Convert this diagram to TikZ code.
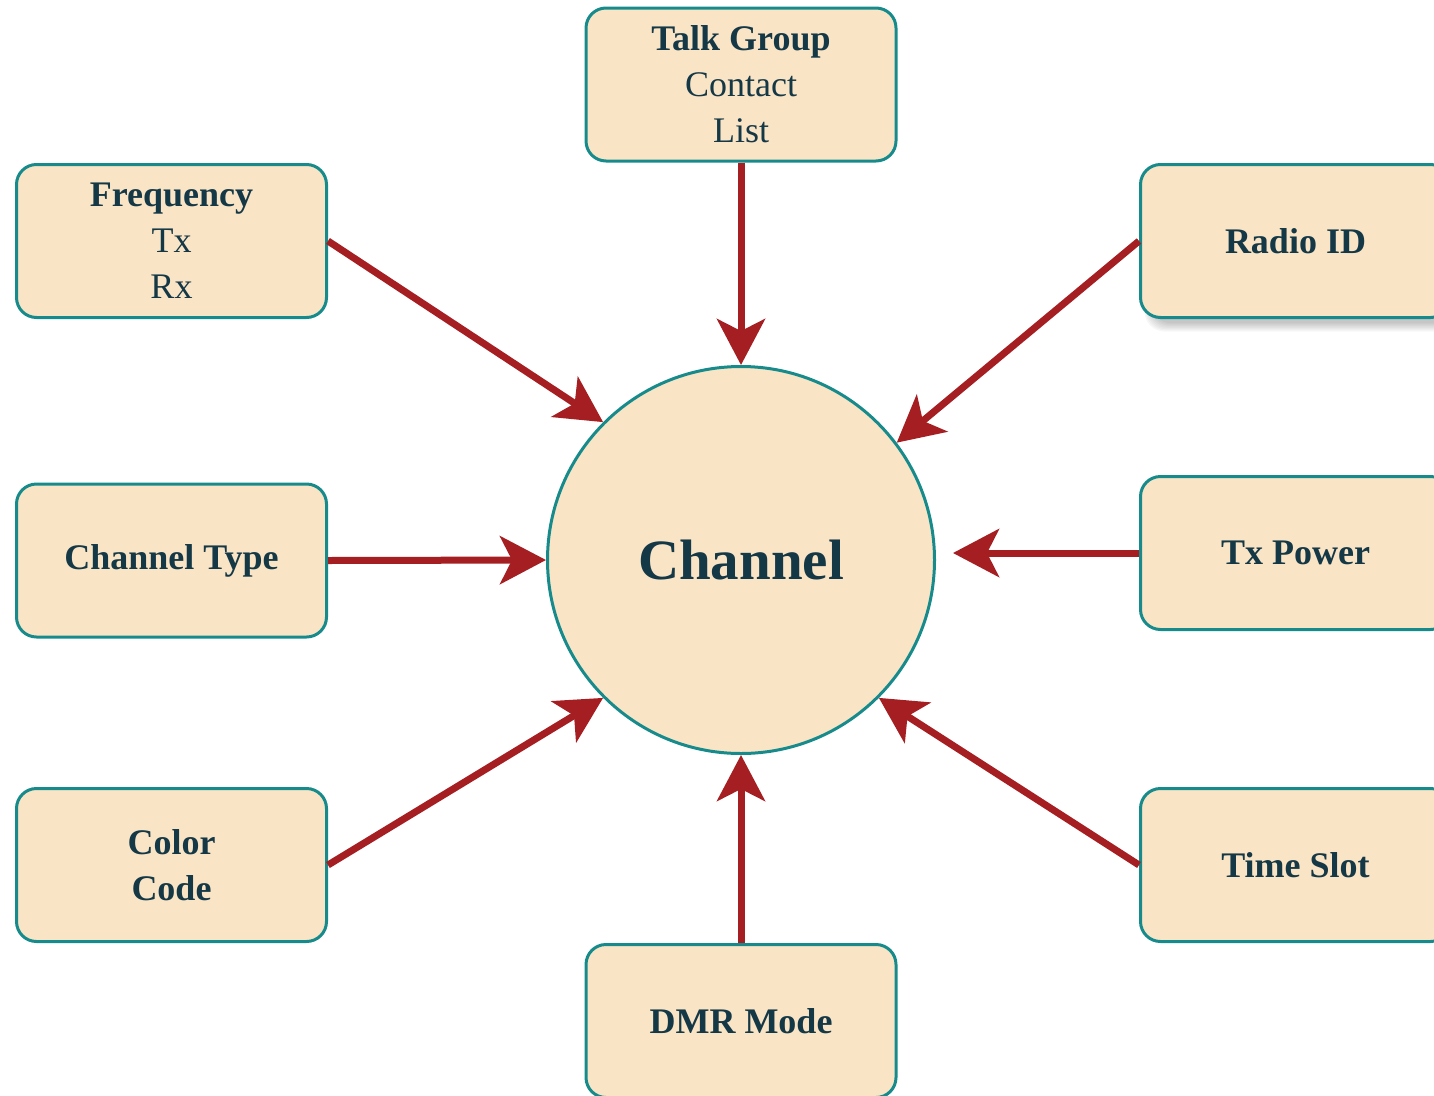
\documentclass[tikz,border=0pt]{standalone}
\usepackage{fontspec}
\setmainfont{Liberation Serif}
\usetikzlibrary{arrows.meta}
\definecolor{boxfill}{RGB}{250,228,198}
\definecolor{boxline}{RGB}{23,139,139}
\definecolor{inktext}{RGB}{21,56,70}
\definecolor{linkred}{RGB}{165,30,34}
\begin{document}
\begin{tikzpicture}[x=1pt,y=-1pt,
  box/.style={draw=boxline, line width=3pt, fill=boxfill, rounded corners=20pt,
    minimum width=310pt, minimum height=153pt, align=center, text=inktext,
    font=\fontsize{36}{46}\selectfont, inner sep=0pt},
  hub/.style={circle, draw=boxline, line width=3pt, fill=boxfill, minimum size=387pt,
    text=inktext, font=\fontsize{57}{60}\selectfont\bfseries, inner sep=0pt},
  link/.style={draw=linkred, line width=7pt,
    -{Stealth[length=46pt,width=48pt,inset=12pt]}}
]
\useasboundingbox (0,0) rectangle (1434,1095);

% soft shadow under the Radio ID box
\foreach \g in {0,2,...,14}
  \fill[black, opacity=0.03, rounded corners=20pt]
    (1140.5+4+\g*0.5, 164.5+6+\g*0.5) rectangle (1455, 317.5+14-\g*0.6);

% parameter boxes
\node[box] (freq)  at (171.5,241)   {\textbf{Frequency}\\Tx\\Rx};
\node[box] (talk)  at (741,84.5)    {\textbf{Talk Group}\\Contact\\List};
\node[box] (radio) at (1295.5,241)  {\textbf{Radio ID}};
\node[box] (ctype) at (171.5,560.5) {\textbf{Channel Type}};
\node[box] (txp)   at (1295.5,553)  {\textbf{Tx Power}};
\node[box] (ccode) at (171.5,865)   {\textbf{Color}\\\textbf{Code}};
\node[box] (tslot) at (1295.5,865)  {\textbf{Time Slot}};
\node[box] (dmr)   at (741,1021)    {\textbf{DMR Mode}};

% central channel
\node[hub] (ch) at (741,560) {Channel};

% connectors into the channel
\draw[link] (talk.south) -- (ch.north);
\draw[link] (freq.east) -- (ch.135);
\draw[link] (radio.west) -- (ch.37);
\draw[link] (ctype.east) -- (ch.west);
\draw[link, shorten >=17pt] (txp.west) -- (txp.west -| ch.east);
\draw[link] (ccode.east) -- (ch.-135);
\draw[link] (dmr.north) -- (ch.south);
\draw[link] (tslot.west) -- (ch.-45);
\end{tikzpicture}
\end{document}
